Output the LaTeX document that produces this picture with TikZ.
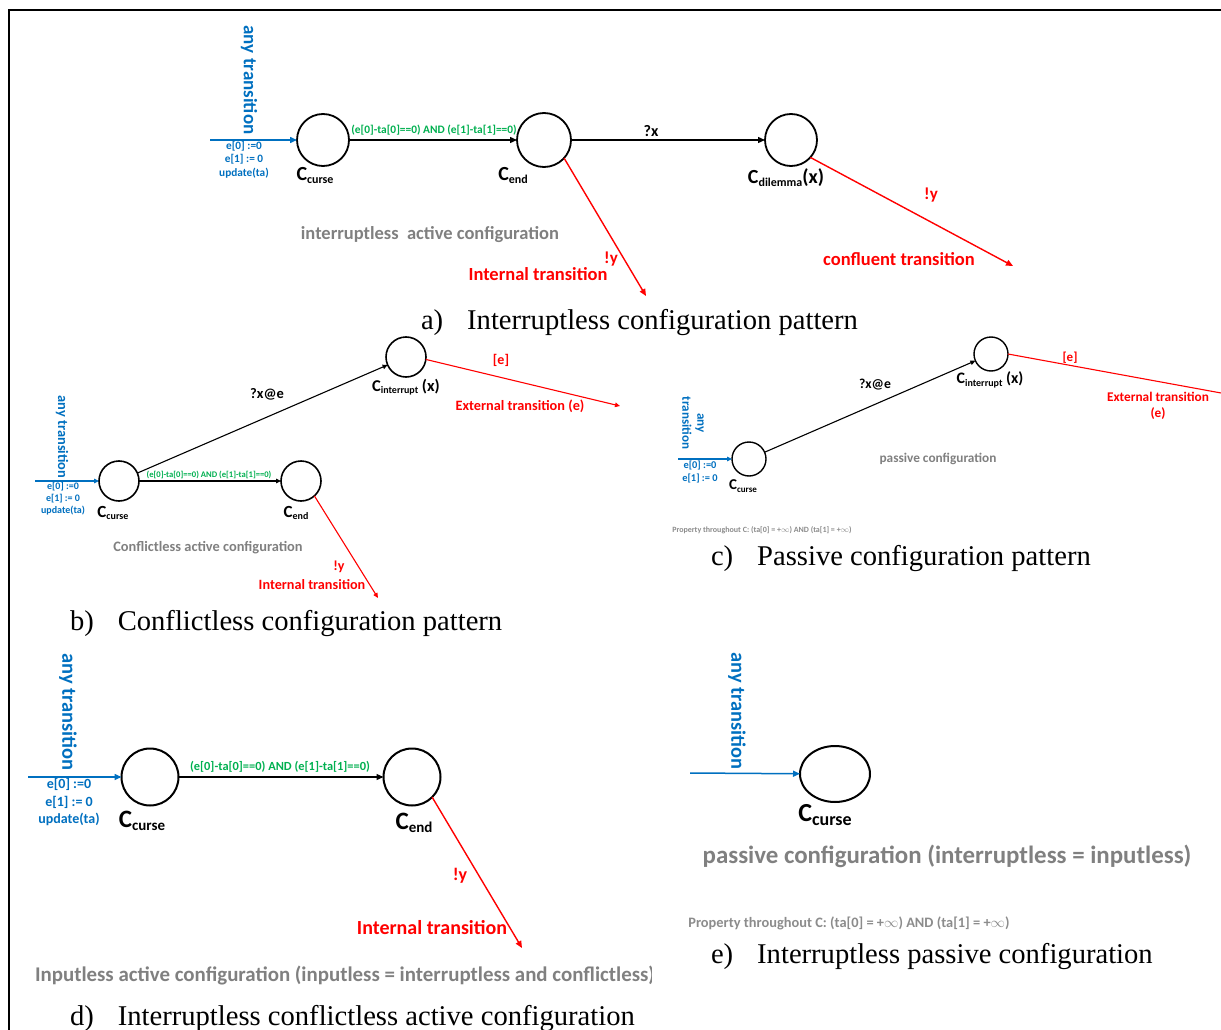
\documentclass[tikz,border=0pt]{standalone}
\usepackage{fontspec}
\setmainfont{Carlito}
\newfontfamily\capfont{Liberation Serif}
\usetikzlibrary{arrows.meta,shapes.geometric}
\definecolor{myblue}{RGB}{0,112,192}
\definecolor{mygreen}{RGB}{0,176,80}
\definecolor{myred}{RGB}{255,0,0}
\definecolor{mygrey}{RGB}{128,128,128}
\definecolor{propgrey}{RGB}{140,140,140}
\newcommand\fs[2][1.2]{\fontsize{#2}{#1\dimexpr #2pt\relax}\selectfont}
\newcommand\fsl[2]{\fontsize{#1}{#2}\selectfont}
\newcommand\CLab[4]{{\fsl{#1}{#1}C}\raisebox{-#3pt}{\fsl{#2}{#2}#4}}
\begin{document}
\begin{tikzpicture}[x=1pt,y=-1pt,
  every node/.style={inner sep=0pt, outer sep=0pt},
  cfg/.style={circle, draw, line width=#1},
  cfg/.default=1.8pt,
  trans/.style={line width=1.3pt, -{Triangle[length=7pt,width=6pt]}},
  transs/.style={line width=1.1pt, -{Triangle[length=5pt,width=4.5pt]}},
  bluearr/.style={draw=myblue, line width=1.5pt, -{Triangle[length=7pt,width=6pt]}},
  bluearrs/.style={draw=myblue, line width=1.2pt, -{Triangle[length=5pt,width=4.5pt]}},
  redarr/.style={draw=myred, line width=1.4pt, -{Triangle[length=7pt,width=6pt]}},
  redarrs/.style={draw=myred, line width=1.1pt, -{Triangle[length=5pt,width=4.5pt]}},
  redline/.style={draw=myred, line width=1.1pt},
  bluetxt/.style={text=myblue, font=\bfseries},
  greentxt/.style={text=mygreen, font=\bfseries},
  redtxt/.style={text=myred, font=\bfseries},
  greytxt/.style={text=mygrey, font=\bfseries},
  proptxt/.style={text=propgrey, font=\bfseries},
  blacktxt/.style={text=black, font=\bfseries},
  captxt/.style={anchor=west, font=\capfont\fsl{28.6}{30}}
]
\useasboundingbox (0,0) rectangle (1221,1030);
\fill[white] (0,0) rectangle (1221,1030);
% frame
\draw[line width=1.6pt] (9,1040) -- (9,10) -- (1230,10);

% ================= (a)
\node[cfg, minimum size=52pt] (a1) at (323,140) {};
\node[cfg, minimum size=54pt] (a2) at (544,140) {};
\node[cfg, minimum size=52pt] (a3) at (791,140) {};
\coordinate (a0) at (210,140);
\coordinate (a4) at (646,296);
\coordinate (a5) at (1013,266);
\draw[bluearr] (a0) -- (a1);
\draw[trans] (a1) -- (a2);
\draw[trans] (a2) -- (a3);
\draw[redarr] (a2.318) -- (a4);
\draw[redarr] (a3.318) -- (a5);
\node[bluetxt, rotate=-90] (a0t) at (249,80) {\fs{19}any transition};
\node[bluetxt, align=center, font=\bfseries\fsl{11.3}{13.5}] (a0u) at (244,159.5) {e[0] :=0\\e[1] := 0\\update(ta)};
\node[greentxt] (a12) at (434,130) {\fs{11.4}(e[0]-ta[0]==0) AND (e[1]-ta[1]==0)};
\node[blacktxt] (a1l) at (315,175) {\CLab{20}{12}{3}{curse}};
\node[blacktxt] (a2l) at (513,175) {\CLab{20}{12}{3}{end}};
\node[blacktxt] (a3l) at (786,178) {\CLab{20}{12}{3}{dilemma}\fs{20}(x)};
\node[blacktxt] (a23) at (651,131) {\fs{16}?x};
\node[redtxt] (a24y) at (611,259) {\fs{17}!y};
\node[redtxt] (a24t) at (538,274) {\fs{18.5}Internal transition};
\node[redtxt] (a35y) at (931,195) {\fs{17}!y};
\node[redtxt] (a35t) at (899,259) {\fs{18.5}confluent transition};
\node[greytxt] (aname) at (430,235) {\fs{18.5}interruptless\ \ active configuration};
\node[captxt] (acap) at (421,323) {a)\hspace{24pt}Interruptless configuration pattern};

% ================= (b)
\node[cfg=1.6pt, minimum size=40pt] (b1) at (119,481) {};
\node[cfg=1.6pt, minimum size=40pt] (b2) at (301,481) {};
\node[cfg=1.6pt, minimum size=40pt] (b3) at (406,357) {};
\coordinate (b0) at (35,481);
\coordinate (b4) at (620,406);
\coordinate (b5) at (378,598);
\draw[bluearrs] (b0) -- (b1);
\draw[transs] (b1) -- (b2);
\draw[transs] (b1) -- (b3);
\draw[redarrs] (b3.353) -- (b4);
\draw[redarrs] (b2.312) -- (b5);
\node[bluetxt, rotate=-90] (b0t) at (62,437) {\fs{14.4}any transition};
\node[bluetxt, align=center, font=\bfseries\fsl{10}{12}] (b0u) at (63,499) {e[0] :=0\\e[1] := 0\\update(ta)};
\node[greentxt] (b12) at (209,475) {\fs{8.6}(e[0]-ta[0]==0) AND (e[1]-ta[1]==0)};
\node[blacktxt] (b1l) at (113,513) {\CLab{17}{10}{2.5}{curse}};
\node[blacktxt] (b2l) at (296,513) {\CLab{17}{10}{2.5}{end}};
\node[blacktxt] (b3l) at (406,387) {\CLab{16.5}{10}{2.5}{interrupt}\fs{16.5} (x)};
\node[blacktxt] (b13) at (267,394) {\fs{14.5}?x@e};
\node[redtxt] (b34e) at (501,360) {\fs{14}[e]};
\node[redtxt] (b34t) at (520,406) {\fs{14.3}External transition (e)};
\node[redtxt] (b25y) at (339,567) {\fs{14}!y};
\node[redtxt] (b25t) at (312,585) {\fs{14.2}Internal transition};
\node[greytxt] (bname) at (208,548) {\fs{14.4}Conflictless active configuration};
\node[captxt] (bcap) at (70,624) {b)\hspace{24pt}Conflictless configuration pattern};

% ================= (c)
\node[cfg=1.4pt, minimum size=34pt] (c1) at (749,459) {};
\node[cfg=1.4pt, minimum size=34pt] (c2) at (991,354) {};
\coordinate (c0) at (678,459);
\coordinate (c3) at (1232,395);
\draw[bluearrs] (c0) -- (c1);
\draw[transs] (c1) -- (c2);
\draw[redline] (c2.east) -- (c3);
\node[bluetxt, rotate=-90, align=center, font=\bfseries\fsl{13}{15}] (c0t) at (693,423) {any\\transition};
\node[bluetxt, align=center, font=\bfseries\fsl{10.4}{13}] (c0u) at (700,472) {e[0] :=0\\e[1] := 0};
\node[blacktxt] (c1l) at (743,486) {\CLab{15}{9}{2.3}{curse}};
\node[blacktxt] (c2l) at (990,380) {\CLab{16}{10}{2.5}{interrupt}\fs{16} (x)};
\node[blacktxt] (c12) at (875,385) {\fs{13.7}?x@e};
\node[redtxt] (c23e) at (1070,358) {\fs{13}[e]};
\node[redtxt, align=center, font=\bfseries\fsl{13.3}{16}] (c23t) at (1158,406) {External transition\\(e)};
\node[greytxt] (cname) at (938,459) {\fs{13.3}passive configuration};
\node[proptxt] (cprop) at (762,530) {\fs{8}Property throughout C: (ta[0] = +$\infty$) AND (ta[1] = +$\infty$)};
\node[captxt] (ccap) at (711,559) {c)\hspace{24pt}Passive configuration pattern};

% ================= (d)
\node[cfg=2pt, minimum size=57pt] (d1) at (150,777) {};
\node[cfg=2pt, minimum size=57pt] (d2) at (412,777) {};
\coordinate (d0) at (28,777);
\coordinate (d3) at (522,948);
\draw[bluearr] (d0) -- (d1);
\draw[trans] (d1) -- (d2);
\draw[redarr] (d2.315) -- (d3);
\node[bluetxt, rotate=-90] (d0t) at (68,712) {\fs{20.5}any transition};
\node[bluetxt, align=center, font=\bfseries\fsl{14}{17.5}] (d0u) at (69,802) {e[0] :=0\\e[1] := 0\\update(ta)};
\node[greentxt] (d12) at (280,767) {\fs{12.4}(e[0]-ta[0]==0) AND (e[1]-ta[1]==0)};
\node[blacktxt] (d1l) at (142,821) {\CLab{25}{15}{3.5}{curse}};
\node[blacktxt] (d2l) at (414,823) {\CLab{25}{15}{3.5}{end}};
\node[redtxt] (d23y) at (460,876) {\fs{18}!y};
\node[redtxt] (d23t) at (432,928) {\fs{20}Internal transition};
\begin{scope}
\clip (0,950) rectangle (651,1000);
\node[greytxt, anchor=west] (dname) at (35,976) {\fs{20.9}Inputless active configuration (inputless = interruptless and conflictless)};
\end{scope}
\node[captxt] (dcap) at (70,1019) {d)\hspace{24pt}Interruptless conflictless active configuration};

% ================= (e)
\node[ellipse, draw, line width=2pt, minimum width=70pt, minimum height=56pt] (e1) at (835,774) {};
\coordinate (e0) at (690,773);
\draw[bluearr] (e0) -- (e1);
\node[bluetxt, rotate=-90] (e0t) at (737,711) {\fs{20.4}any transition};
\node[blacktxt] (e1l) at (825,815) {\CLab{26}{18}{4}{curse}};
\node[greytxt] (ename) at (947,856) {\fs{24.9}passive configuration (interruptless = inputless)};
\node[proptxt] (eprop) at (849,923) {\fs{14.4}Property throughout C: (ta[0] = +$\infty$) AND (ta[1] = +$\infty$)};
\node[captxt] (ecap) at (711,957) {e)\hspace{24pt}Interruptless passive configuration};
\end{tikzpicture}
\end{document}
